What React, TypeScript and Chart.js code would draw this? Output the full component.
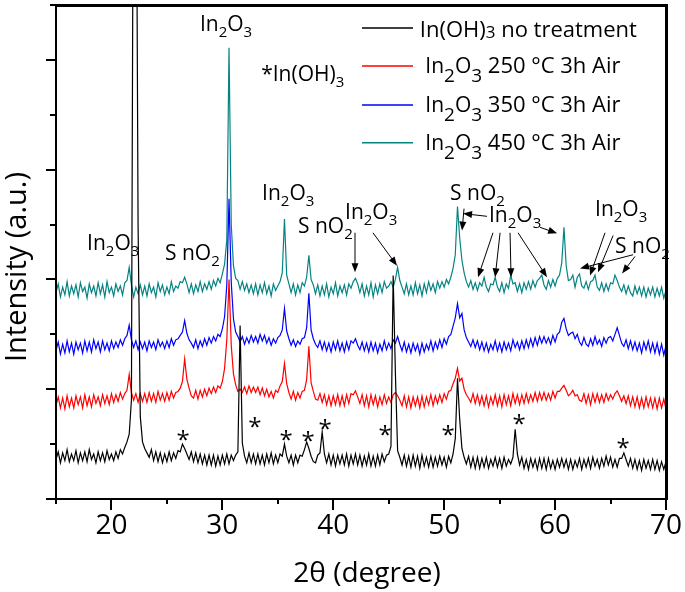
import React, { useEffect, useRef } from 'react';
import { Chart, registerables } from 'chart.js';

Chart.register(...registerables);

// 2θ sampling (degree)
const twoTheta = [
  15.0, 15.2, 15.4, 15.6, 15.8, 16.0, 16.2, 16.4, 16.6, 16.8,
  17.0, 17.2, 17.4, 17.6, 17.8, 18.0, 18.2, 18.4, 18.6, 18.8,
  19.0, 19.2, 19.4, 19.6, 19.8, 20.0, 20.2, 20.4, 20.6, 20.8,
  21.0, 21.2, 21.4, 21.6, 21.8, 22.0, 22.2, 22.4, 22.6, 22.8,
  23.0, 23.2, 23.4, 23.6, 23.8, 24.0, 24.2, 24.4, 24.6, 24.8,
  25.0, 25.2, 25.4, 25.6, 25.8, 26.0, 26.2, 26.4, 26.6, 26.8,
  27.0, 27.2, 27.4, 27.6, 27.8, 28.0, 28.2, 28.4, 28.6, 28.8,
  29.0, 29.2, 29.4, 29.6, 29.8, 30.0, 30.2, 30.4, 30.6, 30.8,
  31.0, 31.2, 31.4, 31.6, 31.8, 32.0, 32.2, 32.4, 32.6, 32.8,
  33.0, 33.2, 33.4, 33.6, 33.8, 34.0, 34.2, 34.4, 34.6, 34.8,
  35.0, 35.2, 35.4, 35.6, 35.8, 36.0, 36.2, 36.4, 36.6, 36.8,
  37.0, 37.2, 37.4, 37.6, 37.8, 38.0, 38.2, 38.4, 38.6, 38.8,
  39.0, 39.2, 39.4, 39.6, 39.8, 40.0, 40.2, 40.4, 40.6, 40.8,
  41.0, 41.2, 41.4, 41.6, 41.8, 42.0, 42.2, 42.4, 42.6, 42.8,
  43.0, 43.2, 43.4, 43.6, 43.8, 44.0, 44.2, 44.4, 44.6, 44.8,
  45.0, 45.2, 45.4, 45.6, 45.8, 46.0, 46.2, 46.4, 46.6, 46.8,
  47.0, 47.2, 47.4, 47.6, 47.8, 48.0, 48.2, 48.4, 48.6, 48.8,
  49.0, 49.2, 49.4, 49.6, 49.8, 50.0, 50.2, 50.4, 50.6, 50.8,
  51.0, 51.2, 51.4, 51.6, 51.8, 52.0, 52.2, 52.4, 52.6, 52.8,
  53.0, 53.2, 53.4, 53.6, 53.8, 54.0, 54.2, 54.4, 54.6, 54.8,
  55.0, 55.2, 55.4, 55.6, 55.8, 56.0, 56.2, 56.4, 56.6, 56.8,
  57.0, 57.2, 57.4, 57.6, 57.8, 58.0, 58.2, 58.4, 58.6, 58.8,
  59.0, 59.2, 59.4, 59.6, 59.8, 60.0, 60.2, 60.4, 60.6, 60.8,
  61.0, 61.2, 61.4, 61.6, 61.8, 62.0, 62.2, 62.4, 62.6, 62.8,
  63.0, 63.2, 63.4, 63.6, 63.8, 64.0, 64.2, 64.4, 64.6, 64.8,
  65.0, 65.2, 65.4, 65.6, 65.8, 66.0, 66.2, 66.4, 66.6, 66.8,
  67.0, 67.2, 67.4, 67.6, 67.8, 68.0, 68.2, 68.4, 68.6, 68.8,
  69.0, 69.2, 69.4, 69.6, 69.8, 70.0,
];

// In(OH)3 no treatment (offset trace)
const inOH3Untreated = [
  0.72, 0.86, 0.66, 0.84, 0.70, 0.90, 0.68, 0.82, 0.70, 0.88,
  0.66, 0.84, 0.70, 0.86, 0.68, 0.90, 0.72, 0.82, 0.66, 0.86,
  0.70, 0.84, 0.68, 0.88, 0.72, 0.82, 0.70, 0.86, 0.74, 0.90,
  0.82, 0.94, 1.04, 1.18, 1.80, 14.0, 14.0, 5.00, 1.50, 1.04,
  0.92, 0.84, 0.76, 0.90, 0.70, 0.86, 0.68, 0.84, 0.66, 0.82,
  0.68, 0.86, 0.70, 0.84, 0.74, 0.88, 0.86, 1.00, 0.92, 0.82,
  0.72, 0.86, 0.68, 0.84, 0.66, 0.82, 0.64, 0.80, 0.62, 0.80,
  0.62, 0.80, 0.60, 0.78, 0.62, 0.80, 0.64, 0.82, 0.64, 0.80,
  0.70, 0.80, 0.86, 3.16, 1.02, 0.78, 0.66, 0.84, 0.66, 0.82,
  0.64, 0.82, 0.64, 0.80, 0.62, 0.82, 0.66, 0.84, 0.64, 0.80,
  0.66, 0.82, 0.78, 1.00, 0.78, 0.66, 0.80, 0.62, 0.80, 0.66,
  0.80, 0.78, 0.90, 1.04, 0.92, 0.78, 0.68, 0.66, 0.80, 0.84,
  1.22, 0.82, 0.66, 0.82, 0.62, 0.80, 0.60, 0.80, 0.64, 0.80,
  0.62, 0.82, 0.60, 0.80, 0.64, 0.82, 0.62, 0.80, 0.60, 0.78,
  0.62, 0.82, 0.60, 0.78, 0.60, 0.80, 0.62, 0.82, 0.68, 0.80,
  0.82, 0.96, 4.07, 2.30, 0.88, 0.76, 0.62, 0.80, 0.60, 0.78,
  0.58, 0.80, 0.60, 0.78, 0.56, 0.80, 0.60, 0.76, 0.58, 0.78,
  0.58, 0.76, 0.60, 0.78, 0.62, 0.76, 0.58, 0.78, 0.66, 0.82,
  1.10, 2.20, 1.45, 0.92, 0.76, 0.64, 0.78, 0.58, 0.76, 0.56,
  0.76, 0.56, 0.74, 0.58, 0.76, 0.56, 0.72, 0.60, 0.76, 0.58,
  0.74, 0.56, 0.76, 0.60, 0.72, 0.64, 0.76, 1.27, 0.82, 0.62,
  0.76, 0.56, 0.72, 0.54, 0.74, 0.58, 0.72, 0.54, 0.74, 0.56,
  0.74, 0.54, 0.74, 0.56, 0.70, 0.54, 0.72, 0.58, 0.74, 0.58,
  0.72, 0.54, 0.72, 0.54, 0.70, 0.58, 0.74, 0.54, 0.72, 0.58,
  0.74, 0.56, 0.76, 0.60, 0.72, 0.56, 0.74, 0.60, 0.78, 0.62,
  0.76, 0.58, 0.72, 0.58, 0.74, 0.74, 0.84, 0.72, 0.60, 0.74,
  0.56, 0.72, 0.54, 0.70, 0.52, 0.72, 0.56, 0.70, 0.54, 0.72,
  0.54, 0.70, 0.52, 0.68, 0.54, 0.68,
];

// In2O3 250 °C 3h Air
const in2O3At250 = [
  1.70, 1.86, 1.66, 1.84, 1.64, 1.88, 1.68, 1.84, 1.66, 1.88,
  1.72, 1.86, 1.66, 1.90, 1.70, 1.86, 1.68, 1.90, 1.74, 1.86,
  1.70, 1.90, 1.74, 1.88, 1.72, 1.92, 1.76, 1.90, 1.78, 1.94,
  1.82, 1.92, 1.98, 2.27, 1.94, 1.80, 1.92, 1.76, 1.92, 1.78,
  1.92, 1.76, 1.94, 1.78, 1.92, 1.76, 1.96, 1.80, 1.92, 1.78,
  1.94, 1.80, 1.96, 1.84, 1.94, 1.96, 2.02, 2.14, 2.55, 2.18,
  2.02, 1.88, 1.84, 1.98, 1.82, 1.98, 1.86, 2.00, 1.88, 2.02,
  1.92, 2.04, 1.94, 2.06, 2.02, 2.14, 2.38, 2.90, 4.00, 2.80,
  2.28, 2.08, 1.96, 2.00, 1.94, 2.04, 1.92, 2.06, 1.94, 2.04,
  1.94, 2.04, 1.90, 2.02, 1.88, 2.00, 1.86, 1.96, 1.84, 1.98,
  1.94, 2.06, 2.14, 2.47, 2.10, 1.94, 1.82, 1.96, 1.80, 1.94,
  1.84, 1.96, 1.98, 2.18, 2.78, 2.12, 1.96, 1.82, 1.80, 1.92,
  1.76, 1.90, 1.72, 1.88, 1.70, 1.88, 1.72, 1.90, 1.70, 1.88,
  1.70, 1.90, 1.74, 1.92, 1.90, 1.97, 1.86, 1.74, 1.90, 1.70,
  1.88, 1.68, 1.90, 1.72, 1.88, 1.68, 1.86, 1.72, 1.90, 1.74,
  1.86, 1.76, 1.90, 1.94, 1.88, 1.80, 1.70, 1.88, 1.68, 1.86,
  1.66, 1.86, 1.70, 1.86, 1.66, 1.88, 1.68, 1.86, 1.72, 1.90,
  1.70, 1.88, 1.74, 1.90, 1.76, 1.92, 1.82, 1.96, 1.98, 2.10,
  2.20, 2.38, 2.15, 2.20, 2.00, 1.90, 1.84, 1.76, 1.92, 1.74,
  1.90, 1.72, 1.88, 1.70, 1.88, 1.68, 1.86, 1.72, 1.90, 1.70,
  1.88, 1.68, 1.90, 1.72, 1.88, 1.70, 1.92, 1.74, 1.90, 1.72,
  1.90, 1.74, 1.92, 1.76, 1.90, 1.78, 1.94, 1.78, 1.94, 1.80,
  1.94, 1.80, 1.92, 1.80, 1.96, 1.84, 1.96, 1.96, 2.02, 2.07,
  1.98, 1.88, 1.92, 1.98, 1.88, 1.90, 1.80, 1.78, 1.92, 1.74,
  1.90, 1.72, 1.92, 1.76, 1.92, 1.76, 1.90, 1.76, 1.92, 1.80,
  1.90, 1.82, 1.92, 1.97, 1.88, 1.78, 1.88, 1.74, 1.88, 1.70,
  1.86, 1.68, 1.86, 1.66, 1.84, 1.66, 1.86, 1.68, 1.84, 1.66,
  1.84, 1.64, 1.84, 1.66, 1.82, 1.64,
];

// In2O3 350 °C 3h Air
const in2O3At350 = [
  2.70, 2.86, 2.64, 2.82, 2.66, 2.88, 2.68, 2.84, 2.64, 2.86,
  2.72, 2.84, 2.66, 2.88, 2.70, 2.86, 2.68, 2.90, 2.74, 2.86,
  2.68, 2.88, 2.72, 2.84, 2.70, 2.88, 2.74, 2.86, 2.76, 2.90,
  2.80, 2.92, 2.98, 3.17, 2.90, 2.76, 2.88, 2.72, 2.86, 2.74,
  2.86, 2.70, 2.88, 2.76, 2.86, 2.72, 2.90, 2.78, 2.86, 2.74,
  2.88, 2.76, 2.92, 2.80, 2.90, 2.92, 2.98, 3.04, 3.25, 3.02,
  2.90, 2.84, 2.76, 2.90, 2.74, 2.88, 2.78, 2.92, 2.80, 2.94,
  2.84, 2.96, 2.88, 3.00, 2.96, 3.10, 3.32, 3.90, 5.47, 3.95,
  3.28, 3.04, 2.96, 2.86, 2.96, 2.82, 2.94, 2.84, 2.98, 2.86,
  2.96, 2.84, 3.00, 2.88, 2.98, 2.84, 2.94, 2.80, 2.92, 2.84,
  2.94, 2.98, 3.08, 3.47, 3.06, 2.92, 2.80, 2.90, 2.78, 2.88,
  2.82, 2.92, 2.94, 3.12, 3.75, 3.08, 2.92, 2.82, 2.76, 2.88,
  2.72, 2.86, 2.70, 2.84, 2.68, 2.86, 2.72, 2.88, 2.70, 2.84,
  2.68, 2.86, 2.72, 2.88, 2.84, 2.92, 2.80, 2.72, 2.86, 2.70,
  2.84, 2.68, 2.86, 2.70, 2.84, 2.66, 2.82, 2.70, 2.88, 2.72,
  2.84, 2.74, 2.90, 2.84, 2.96, 2.82, 2.70, 2.86, 2.68, 2.82,
  2.66, 2.84, 2.70, 2.82, 2.64, 2.84, 2.68, 2.82, 2.72, 2.88,
  2.70, 2.86, 2.74, 2.90, 2.76, 2.92, 2.82, 2.96, 3.00, 3.15,
  3.30, 3.56, 3.30, 3.38, 3.08, 2.94, 2.86, 2.78, 2.90, 2.76,
  2.88, 2.72, 2.86, 2.70, 2.84, 2.68, 2.82, 2.72, 2.88, 2.70,
  2.84, 2.68, 2.86, 2.72, 2.84, 2.70, 2.90, 2.76, 2.86, 2.72,
  2.88, 2.74, 2.90, 2.76, 2.92, 2.78, 2.94, 2.80, 2.96, 2.84,
  2.96, 2.84, 2.94, 2.82, 2.98, 2.86, 3.00, 3.04, 3.22, 3.29,
  3.10, 2.98, 3.02, 3.04, 2.92, 3.00, 2.86, 2.80, 2.94, 2.82,
  2.78, 2.92, 2.80, 2.96, 2.82, 2.90, 2.78, 2.94, 2.84, 2.94,
  2.96, 2.88, 3.00, 3.12, 2.98, 2.84, 2.78, 2.90, 2.74, 2.88,
  2.72, 2.86, 2.70, 2.84, 2.66, 2.86, 2.72, 2.88, 2.68, 2.84,
  2.66, 2.84, 2.64, 2.82, 2.62, 2.80,
];

// In2O3 450 °C 3h Air
const in2O3At450 = [
  3.76, 3.92, 3.68, 3.86, 3.72, 3.96, 3.70, 3.88, 3.74, 3.90,
  3.68, 3.94, 3.78, 3.86, 3.66, 3.92, 3.76, 3.88, 3.70, 3.94,
  3.74, 3.90, 3.68, 3.96, 3.76, 3.86, 3.70, 3.92, 3.78, 3.88,
  3.72, 3.94, 3.98, 4.22, 3.90, 3.68, 3.86, 3.74, 3.90, 3.72,
  3.88, 3.70, 3.92, 3.76, 3.86, 3.68, 3.94, 3.78, 3.90, 3.72,
  3.86, 3.74, 3.96, 3.78, 3.88, 3.84, 3.96, 3.94, 4.04, 3.92,
  3.76, 3.92, 3.74, 3.90, 3.78, 3.96, 3.78, 3.92, 3.82, 3.96,
  3.82, 3.98, 3.88, 4.02, 3.94, 4.10, 4.28, 4.72, 8.22, 5.00,
  4.25, 4.02, 3.98, 3.82, 3.96, 3.80, 3.92, 3.76, 3.90, 3.74,
  3.92, 3.72, 3.90, 3.76, 3.94, 3.74, 3.88, 3.70, 3.92, 3.80,
  3.88, 3.96, 4.12, 5.10, 4.08, 3.92, 3.76, 3.92, 3.72, 3.90,
  3.76, 3.94, 3.88, 4.04, 4.44, 4.00, 3.90, 3.74, 3.90, 3.70,
  3.88, 3.72, 3.92, 3.68, 3.86, 3.74, 3.94, 3.70, 3.88, 3.76,
  3.90, 3.72, 3.92, 3.84, 3.96, 4.02, 3.92, 3.76, 3.92, 3.70,
  3.88, 3.72, 3.94, 3.68, 3.90, 3.74, 3.92, 3.76, 3.96, 3.84,
  3.88, 3.96, 3.86, 4.00, 4.22, 3.98, 3.86, 3.74, 3.92, 3.72,
  3.88, 3.72, 3.94, 3.74, 3.90, 3.70, 3.92, 3.76, 3.96, 3.80,
  3.92, 3.76, 3.96, 3.84, 3.96, 3.86, 4.00, 3.92, 4.04, 4.20,
  4.45, 5.33, 4.75, 4.35, 4.12, 3.96, 3.86, 3.98, 3.82, 3.94,
  3.80, 3.94, 3.88, 4.04, 3.86, 3.78, 3.92, 3.90, 4.04, 3.86,
  3.78, 3.94, 3.76, 3.92, 3.84, 4.08, 3.92, 3.94, 3.78, 3.92,
  3.76, 3.94, 3.82, 3.96, 3.82, 3.98, 3.86, 3.98, 4.02, 4.08,
  3.90, 3.82, 3.98, 3.86, 4.00, 3.88, 4.02, 4.08, 4.30, 4.95,
  4.25, 3.98, 4.00, 4.08, 3.86, 4.04, 4.10, 3.88, 3.84, 3.96,
  3.82, 3.96, 3.98, 4.08, 3.86, 3.80, 3.94, 3.78, 3.92, 3.80,
  3.94, 3.92, 4.08, 3.98, 3.86, 3.78, 3.90, 3.74, 3.88, 3.76,
  3.70, 3.88, 3.74, 3.86, 3.70, 3.86, 3.68, 3.84, 3.72, 3.86,
  3.68, 3.84, 3.70, 3.86, 3.66, 3.80,
];

const seriesLabels = [
  'In(OH)₃ no treatment',
  'In₂O₃ 250 °C 3h Air',
  'In₂O₃ 350 °C 3h Air',
  'In₂O₃ 450 °C 3h Air',
];
const seriesValues = [inOH3Untreated, in2O3At250, in2O3At350, in2O3At450];
const seriesColors = ['#000000', '#ff0000', '#0000ff', '#058383'];

const FONT = '"Open Sans"';

type Part = { t: string; sub?: boolean; size?: number; dy?: number };

const IN2O3: Part[] = [{ t: 'In' }, { t: '2', sub: true }, { t: 'O' }, { t: '3', sub: true }];
const SNO2: Part[] = [{ t: 'S nO' }, { t: '2', sub: true }];
const STAR_INOH3: Part[] = [{ t: '*In(OH)' }, { t: '3', sub: true }];

// phase labels: baseline-left anchor in data units
const phaseLabels = [
  { x: 27.98, y: 8.53, parts: IN2O3 },
  { x: 33.5, y: 7.62, parts: STAR_INOH3 },
  { x: 17.8, y: 4.53, parts: IN2O3 },
  { x: 24.83, y: 4.35, parts: SNO2 },
  { x: 33.58, y: 5.44, parts: IN2O3 },
  { x: 36.82, y: 4.85, parts: SNO2 },
  { x: 41.06, y: 5.11, parts: IN2O3 },
  { x: 50.53, y: 5.44, parts: SNO2 },
  { x: 54.04, y: 5.04, parts: IN2O3 },
  { x: 63.6, y: 5.16, parts: IN2O3 },
  { x: 65.41, y: 4.49, parts: SNO2 },
];

// arrows [x1, y1, x2, y2] in data units, head at (x2, y2)
const arrows = [
  [41.96, 4.85, 41.96, 4.13],
  [43.58, 4.85, 45.75, 4.25],
  [53.86, 5.15, 51.7, 5.2],
  [51.79, 5.29, 51.61, 4.89],
  [54.4, 4.85, 53.05, 4.04],
  [55.04, 4.85, 54.59, 4.04],
  [55.94, 4.85, 56.03, 4.04],
  [56.66, 4.85, 59.27, 4.04],
  [58.64, 4.95, 60.18, 4.84],
  [64.5, 4.85, 63.15, 4.07],
  [65.23, 4.8, 63.87, 4.13],
  [67.03, 4.45, 62.25, 4.2],
  [67.21, 4.42, 66.04, 4.11],
];

// In(OH)3 reflection markers (centre, data units)
const starX = [26.45, 32.94, 35.74, 37.72, 39.26, 44.67, 50.35, 56.75, 66.13];
const starY = [1.16, 1.4, 1.16, 1.13, 1.36, 1.24, 1.24, 1.44, 1.02];

// legend rows (data units)
const legendLineX = [42.59, 47.19];
const legendRowY = [8.58, 7.89, 7.18, 6.49];
const legendTextX = [47.8, 48.3, 48.3, 48.3];
const legendParts: Part[][] = [
  [{ t: 'In(OH)', size: 22 }, { t: '3', size: 17, dy: 1 }, { t: ' no treatment', size: 22 }],
  [{ t: 'In', size: 21 }, { t: '2', size: 19, dy: 9 }, { t: 'O', size: 21 }, { t: '3', size: 19, dy: 9 }, { t: ' 250 °C 3h Air', size: 22 }],
  [{ t: 'In', size: 21 }, { t: '2', size: 19, dy: 9 }, { t: 'O', size: 21 }, { t: '3', size: 19, dy: 9 }, { t: ' 350 °C 3h Air', size: 22 }],
  [{ t: 'In', size: 21 }, { t: '2', size: 19, dy: 9 }, { t: 'O', size: 21 }, { t: '3', size: 19, dy: 9 }, { t: ' 450 °C 3h Air', size: 22 }],
];

function drawParts(ctx: CanvasRenderingContext2D, x: number, y: number, parts: Part[], base: number, sub: number, subDy: number) {
  let cx = x;
  for (const p of parts) {
    const size = p.size ?? (p.sub ? sub : base);
    ctx.font = `${size}px ${FONT}`;
    const dy = p.dy ?? (p.sub ? subDy : 0);
    ctx.fillText(p.t, cx, y + dy);
    cx += ctx.measureText(p.t).width;
  }
}

const decorPlugin = {
  id: 'decor',
  afterDraw(chart: any) {
    const { ctx, chartArea: a, scales } = chart;
    const xs = scales.x;
    const ys = scales.y;
    const px = (v: number) => xs.getPixelForValue(v);
    const py = (v: number) => ys.getPixelForValue(v);
    ctx.save();
    ctx.fillStyle = '#000000';
    const L = Math.round(a.left), R = Math.round(a.right), T = Math.round(a.top), B = Math.round(a.bottom);

    // frame
    ctx.fillRect(L - 1, T - 1, R - L + 3, 3);
    ctx.fillRect(R - 1, T - 1, 3, B - T + 2);
    ctx.fillRect(L - 1, B - 1, R - L + 3, 2);
    ctx.fillRect(L - 1, T - 1, 2, B - T + 2);

    // tick marks (outward)
    xs.ticks.forEach((t: any) => {
      const X = Math.round(px(t.value));
      const len = t.value % 10 === 0 ? 11 : 5;
      ctx.fillRect(X - 1, B, 2, len);
    });
    ys.ticks.forEach((t: any) => {
      const Y = Math.round(py(t.value));
      const len = t.value % 2 === 0 ? 10 : 6;
      ctx.fillRect(L - len, Y - 1, len, 2);
    });

    // axis titles
    ctx.textAlign = 'center';
    ctx.textBaseline = 'alphabetic';
    ctx.font = `28px ${FONT}`;
    ctx.fillText('2θ (degree)', (a.left + a.right) / 2 + 6, 582);
    ctx.save();
    ctx.translate(26, 267);
    ctx.rotate(-Math.PI / 2);
    ctx.font = `29px ${FONT}`;
    ctx.fillText('Intensity (a.u.)', 0, 0);
    ctx.restore();

    // legend
    ctx.textAlign = 'left';
    legendRowY.forEach((ry, i) => {
      const Y = py(ry);
      ctx.strokeStyle = seriesColors[i];
      ctx.lineWidth = 1.5;
      ctx.beginPath();
      ctx.moveTo(px(legendLineX[0]), Y);
      ctx.lineTo(px(legendLineX[1]), Y);
      ctx.stroke();
      drawParts(ctx, px(legendTextX[i]), Y + (i === 0 ? 9 : 7), legendParts[i], 21, 19, 9);
    });

    // phase labels
    phaseLabels.forEach((l) => {
      drawParts(ctx, px(l.x), py(l.y), l.parts, 21, 15, 6);
    });

    // arrows
    ctx.strokeStyle = '#000';
    ctx.lineWidth = 1;
    arrows.forEach(([x1, y1, x2, y2]) => {
      const X1 = px(x1), Y1 = py(y1), X2 = px(x2), Y2 = py(y2);
      const ang = Math.atan2(Y2 - Y1, X2 - X1);
      const hl = 9, hw = 3.5;
      ctx.beginPath();
      ctx.moveTo(X1, Y1);
      ctx.lineTo(X2 - Math.cos(ang) * hl * 0.8, Y2 - Math.sin(ang) * hl * 0.8);
      ctx.stroke();
      ctx.beginPath();
      ctx.moveTo(X2, Y2);
      ctx.lineTo(X2 - Math.cos(ang) * hl - Math.sin(ang) * hw, Y2 - Math.sin(ang) * hl + Math.cos(ang) * hw);
      ctx.lineTo(X2 - Math.cos(ang) * hl + Math.sin(ang) * hw, Y2 - Math.sin(ang) * hl - Math.cos(ang) * hw);
      ctx.closePath();
      ctx.fill();
    });

    // asterisks
    ctx.font = `24px ${FONT}`;
    ctx.textAlign = 'center';
    const m = ctx.measureText('*');
    const off = (m.actualBoundingBoxAscent - m.actualBoundingBoxDescent) / 2;
    starX.forEach((sx, i) => {
      ctx.fillText('*', px(sx), py(starY[i]) + off);
    });

    ctx.restore();
  },
};

export default function App() {
  const ref = useRef<HTMLCanvasElement | null>(null);
  const frameRef = useRef<HTMLDivElement | null>(null);

  useEffect(() => {
    if (!ref.current) return;
    const chart = new Chart(ref.current, {
      type: 'line',
      data: {
        datasets: seriesValues.map((vals, i) => ({
          label: seriesLabels[i],
          data: twoTheta.map((x, j) => ({ x, y: vals[j] })),
          borderColor: seriesColors[i],
          backgroundColor: seriesColors[i],
          borderWidth: 1.2,
          pointRadius: 0,
          fill: false,
          tension: 0,
        })),
      },
      options: {
        animation: false,
        responsive: false,
        devicePixelRatio: 1,
        layout: { padding: { top: 5, right: 19, left: 0, bottom: 0 } },
        plugins: {
          legend: { display: false },
          tooltip: { enabled: false },
        },
        scales: {
          x: {
            type: 'linear',
            position: 'bottom',
            min: 15,
            max: 70,
            grid: { display: false, drawTicks: true, tickLength: 10 },
            border: { display: false },
            ticks: {
              stepSize: 5,
              autoSkip: false,
              maxRotation: 0,
              padding: 0,
              color: '#000',
              font: { family: FONT, size: 28 },
              callback: (v: any) => (Number(v) % 10 === 0 ? String(v) : ''),
            },
            afterFit: (s: any) => {
              s.height = 93;
            },
          },
          y: {
            type: 'linear',
            position: 'left',
            min: 0,
            max: 9,
            grid: { display: false, drawTicks: false },
            border: { display: false },
            ticks: { display: false, stepSize: 1 },
            afterFit: (s: any) => {
              s.width = 56;
            },
          },
        },
      },
      plugins: [decorPlugin],
    } as any);

    // frame overlay aligned to the library's chart area
    const a = chart.chartArea;
    const f = frameRef.current;
    if (f && a) {
      f.style.left = `${Math.round(a.left) - 1}px`;
      f.style.top = `${Math.round(a.top) - 1}px`;
      f.style.width = `${Math.round(a.right) - Math.round(a.left) + 3}px`;
      f.style.height = `${Math.round(a.bottom) - Math.round(a.top) + 2}px`;
      f.style.display = 'block';
    }
    return () => chart.destroy();
  }, []);

  return (
    <div style={{ position: 'absolute', left: 0, top: 0, width: 685, height: 592, background: '#fff' }}>
      <canvas ref={ref} width={685} height={592} style={{ display: 'block' }} />
      <div
        ref={frameRef}
        style={{
          position: 'absolute',
          display: 'none',
          boxSizing: 'border-box',
          borderTop: '3px solid #000',
          borderRight: '3px solid #000',
          borderBottom: '2px solid #000',
          borderLeft: '2px solid #000',
          pointerEvents: 'none',
        }}
      />
    </div>
  );
}
